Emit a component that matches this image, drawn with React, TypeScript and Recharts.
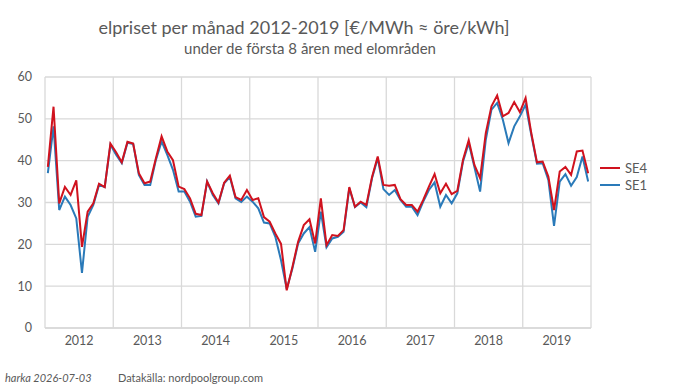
import React from 'react';
import { LineChart, Line, XAxis, YAxis, CartesianGrid } from 'recharts';

// monthly prices 2012-2019, €/MWh
const years = ['2012', '2013', '2014', '2015', '2016', '2017', '2018', '2019'];

const se4 = [
  38.5, 52.9, 29.8, 33.7, 31.8, 35.3, 19.4, 27.8, 29.8, 34.5, 33.7, 44.1,
  42.0, 39.6, 44.5, 44.1, 37.0, 34.6, 35.0, 40.6, 45.8, 42.2, 40.1, 33.8,
  33.2, 31.0, 27.3, 27.0, 35.0, 32.2, 30.0, 34.7, 36.4, 31.3, 30.6, 33.0,
  30.6, 31.0, 26.5, 25.4, 22.6, 20.1, 9.0, 14.6, 20.6, 24.6, 26.0, 20.2,
  31.0, 19.8, 22.2, 22.0, 23.4, 33.7, 29.0, 30.2, 29.4, 36.1, 41.0, 34.2,
  34.0, 34.2, 30.8, 29.4, 29.4, 27.8, 30.6, 33.8, 36.8, 32.2, 34.5, 32.0,
  32.8, 40.2, 44.9, 39.0, 35.8, 46.6, 53.0, 55.6, 50.6, 51.4, 54.0, 51.6,
  55.0, 46.6, 39.6, 39.8, 36.2, 28.2, 37.4, 38.5, 36.6, 42.2, 42.4, 37.0,
];

const se1 = [
  37.0, 48.2, 28.2, 31.4, 29.4, 26.2, 13.2, 26.6, 29.4, 34.2, 33.7, 43.8,
  41.4, 39.4, 44.3, 44.0, 36.6, 34.2, 34.2, 40.2, 44.6, 41.4, 37.8, 32.6,
  32.6, 30.2, 26.6, 26.8, 35.0, 31.8, 29.8, 34.6, 36.1, 31.0, 30.1, 31.4,
  30.2, 28.6, 25.2, 25.0, 21.8, 16.2, 9.3, 14.2, 20.2, 22.6, 24.1, 18.2,
  27.8, 19.3, 21.4, 21.8, 23.0, 33.4, 28.9, 30.0, 28.9, 35.8, 40.6, 33.2,
  31.8, 33.0, 30.6, 29.0, 29.0, 27.0, 30.2, 33.0, 34.8, 29.0, 31.8, 29.8,
  32.2, 39.8, 44.2, 38.5, 32.6, 45.0, 52.2, 53.8, 49.8, 44.2, 48.2, 50.6,
  53.4, 46.2, 39.3, 39.4, 35.4, 24.4, 35.0, 36.8, 34.0, 36.1, 41.0, 35.0,
];

const yTicks = [0, 10, 20, 30, 40, 50, 60];

const data = se4.map((v, i) => ({ i, se4: v, se1: se1[i] }));
const yearEdges = years.map((_, k) => k * 12 - 0.5).concat(years.length * 12 - 0.5);

const RED = '#D0121E';
const BLUE = '#2A7AB9';
const TEXT = '#595959';
const GRID = '#D9D9D9';
const FONT = 'Lato, "Open Sans", sans-serif';

const W = 700;
const H = 388;
const plotLeft = 45;
const plotRight = 591;
const halfYear = ((plotRight - plotLeft) / 96) * 6;

const YearTick = (props: any) => {
  const { x, y, payload } = props;
  const k = Math.round((payload.value + 0.5) / 12);
  if (k >= years.length) return <g />;
  return (
    <text x={x + halfYear} y={y + 9} textAnchor="middle" fill={TEXT} fontSize={12.5} fontFamily={FONT}>
      {years[k]}
    </text>
  );
};

const legendItems = [
  { name: 'SE4', color: RED },
  { name: 'SE1', color: BLUE },
];

export default function App() {
  return (
    <div style={{ position: 'relative', width: W, height: H, background: '#fff', overflow: 'hidden' }}>
      <style>{'body{margin:0}'}</style>
      <div style={{ position: 'absolute', left: 0, width: 608, top: 16, textAlign: 'center', fontFamily: FONT, fontSize: 18, color: TEXT }}>
        elpriset per månad 2012-2019 [€/MWh ≈ öre/kWh]
      </div>
      <div style={{ position: 'absolute', left: 0, width: 620, top: 39, textAlign: 'center', fontFamily: FONT, fontSize: 15, color: TEXT }}>
        under de första 8 åren med elområden
      </div>
      <LineChart
        width={W}
        height={H}
        data={data}
        margin={{ top: 77, right: W - plotRight, bottom: 40, left: 10 }}
      >
        <CartesianGrid stroke={GRID} strokeWidth={1.3} vertical horizontal />
        <XAxis
          dataKey="i"
          type="number"
          domain={[-0.5, 95.5]}
          ticks={yearEdges}
          interval={0}
          tick={<YearTick />}
          tickLine={false}
          axisLine={{ stroke: GRID, strokeWidth: 1.3 }}
          height={20}
        />
        <YAxis
          domain={[0, 60]}
          ticks={yTicks}
          interval={0}
          width={plotLeft - 10}
          tickLine={false}
          axisLine={false}
          tickMargin={7}
          tick={{ fill: TEXT, fontSize: 12.5, fontFamily: FONT }}
        />
        <Line type="linear" dataKey="se1" name="SE1" stroke={BLUE} strokeWidth={2} dot={false} isAnimationActive={false} />
        <Line type="linear" dataKey="se4" name="SE4" stroke={RED} strokeWidth={2} dot={false} isAnimationActive={false} />
      </LineChart>
      <div style={{ position: 'absolute', left: 600, top: 159, fontFamily: FONT, fontSize: 13, color: TEXT }}>
        {legendItems.map((it) => (
          <div key={it.name} style={{ display: 'flex', alignItems: 'center', height: 17 }}>
            <span style={{ display: 'inline-block', width: 20, height: 2, background: it.color, marginRight: 5 }} />
            {it.name}
          </div>
        ))}
      </div>
      <div style={{ position: 'absolute', left: 5, top: 371, fontFamily: FONT, fontSize: 11, color: TEXT, fontStyle: 'italic' }}>
        harka 2026-07-03
      </div>
      <div style={{ position: 'absolute', left: 118, top: 371, fontFamily: FONT, fontSize: 11, color: TEXT }}>
        Datakälla: nordpoolgroup.com
      </div>
    </div>
  );
}
